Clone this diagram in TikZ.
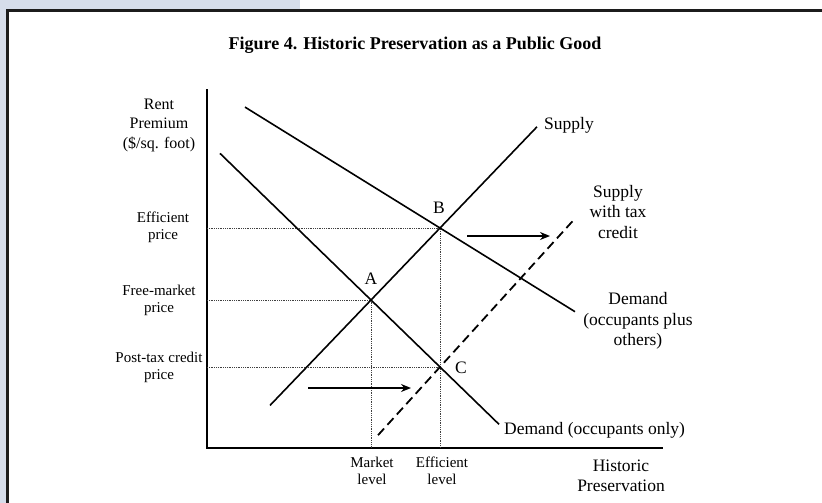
\documentclass[tikz,border=0pt]{standalone}
\usepackage{fontspec}
\setmainfont{Liberation Serif}
\usetikzlibrary{arrows.meta}

\definecolor{pageblue}{RGB}{214,221,234}
\definecolor{framegray}{RGB}{28,28,28}

\begin{document}
\begin{tikzpicture}[x=1pt,y=-1pt,
    curve/.style={line width=1.6pt},
    guide/.style={densely dotted,line width=0.8pt,black!75},
    axisline/.style={line width=2.4pt},
    shiftarrow/.style={line width=1.6pt,-{Stealth[length=10pt,width=8pt]}},
    biglabel/.style={font=\fontsize{17.5}{20.5}\selectfont,align=center,inner sep=0pt},
    smalllabel/.style={font=\fontsize{15}{17}\selectfont,align=center,inner sep=0pt}]

  \useasboundingbox (0,0) rectangle (822,503);
  \fill[white] (0,0) rectangle (822,503);
  \fill[pageblue] (0,0) rectangle (300,9.5);
  \fill[pageblue] (0,0) rectangle (6,503);
  \draw[line width=3pt,framegray] (7.5,503) -- (7.5,11) -- (822,11);

  \node[font=\fontsize{18}{21}\selectfont\bfseries] (title) at (415,45)
  {Figure 4. Historic Preservation as a Public Good};

  % axes
  \coordinate (O) at (207,448);
  \coordinate (ytop) at (207,89);
  \coordinate (xend) at (663,448);
  \draw[axisline] (ytop) -- (O) -- (xend);

  % equilibrium points
  \coordinate (A) at (371,300);
  \coordinate (B) at (440,228);
  \coordinate (C) at (440,367);

  \coordinate (p-eff) at (207,228);
  \coordinate (p-free) at (207,300);
  \coordinate (p-post) at (207,367);
  \coordinate (q-mkt) at (371,448);
  \coordinate (q-eff) at (440,448);

  \draw[guide] (p-eff) -- (B) -- (q-eff);
  \draw[guide] (p-free) -- (A) -- (q-mkt);
  \draw[guide] (p-post) -- (C);

  % curves
  \coordinate (dem-own-s) at (220,153.4);
  \coordinate (dem-own-e) at (499,424.3);
  \coordinate (dem-all-s) at (245,107.1);
  \coordinate (dem-all-e) at (575,311.7);
  \coordinate (sup-s) at (270,405.4);
  \coordinate (sup-e) at (537,126.8);
  \coordinate (suptax-s) at (378,435.2);
  \coordinate (suptax-e) at (575,218.5);

  \draw[curve] (dem-own-s) -- (A) -- (C) -- (dem-own-e);
  \draw[curve] (dem-all-s) -- (B) -- (dem-all-e);
  \draw[curve] (sup-s) -- (A) -- (B) -- (sup-e);
  \draw[curve,line width=1.8pt,dash pattern=on 9pt off 5pt] (suptax-s) -- (C) -- (suptax-e);

  % shifts
  \coordinate (shift1-s) at (467,236);
  \coordinate (shift1-e) at (550,236);
  \coordinate (shift2-s) at (308,388);
  \coordinate (shift2-e) at (411,388);
  \draw[shiftarrow] (shift1-s) -- (shift1-e);
  \draw[shiftarrow] (shift2-s) -- (shift2-e);

  % labels
  \node[biglabel] (lblA) at (371,279) {A};
  \node[biglabel] (lblB) at (439,208) {B};
  \node[biglabel] (lblC) at (461,368) {C};

  \node[biglabel,anchor=west] (supply) at (544,125) {Supply};
  \node[biglabel] (supplytax) at (618,212) {Supply\\with tax\\credit};
  \node[biglabel] (demall) at (638,321) {Demand\\(occupants plus\\others)};
  \node[biglabel,anchor=west] (demown) at (504,430) {Demand (occupants only)};

  \node[font=\fontsize{16}{19.5}\selectfont,align=center,inner sep=0pt] (ylabel) at (159,125)
  {Rent\\Premium\\(\$/sq. foot)};
  \node[smalllabel] (effprice) at (163,227) {Efficient\\price};
  \node[smalllabel] (freeprice) at (159,300) {Free-market\\price};
  \node[smalllabel] (postprice) at (159,367) {Post-tax credit\\price};

  \node[smalllabel] (mktlevel) at (372,471) {Market\\level};
  \node[smalllabel] (efflevel) at (442,471) {Efficient\\level};
  \node[biglabel] (xlabel) at (621,476) {Historic\\Preservation};

\end{tikzpicture}
\end{document}
